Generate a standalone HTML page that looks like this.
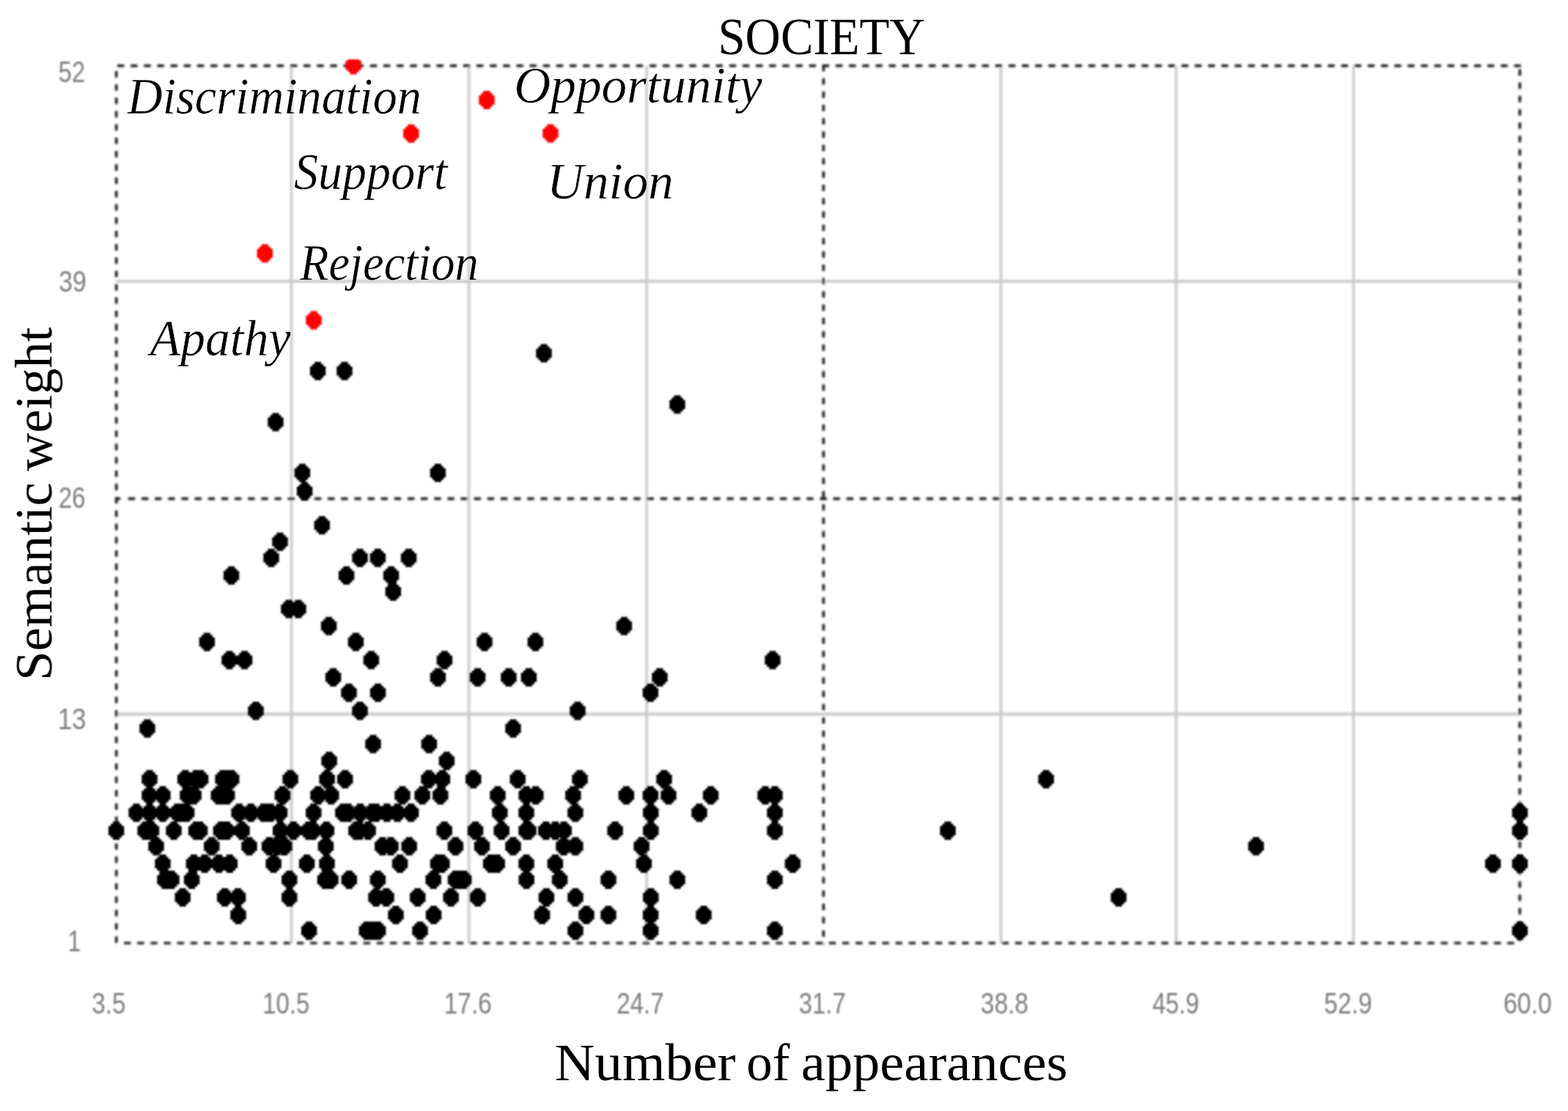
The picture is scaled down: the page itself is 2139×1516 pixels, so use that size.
<!DOCTYPE html>
<html lang="en"><head><meta charset="utf-8"><title>SOCIETY</title>
<style>
html,body{margin:0;padding:0;background:#fff;}
body{width:2139px;height:1516px;overflow:hidden;}
svg{display:block;}
.serif{font-family:"Liberation Serif","DejaVu Serif",serif;fill:#000;}
.it{font-style:italic;stroke:#fff;stroke-width:0.4px;}
.tick{font-family:"Liberation Sans","DejaVu Sans",sans-serif;fill:#7c7c7c;}
</style></head><body>
<svg width="2139" height="1516" viewBox="0 0 2139 1516">
<defs><clipPath id="plot"><rect x="0" y="81.5" width="2139" height="1516"/></clipPath>
<filter id="soft" x="-2%" y="-2%" width="104%" height="104%"><feGaussianBlur stdDeviation="1.25"/></filter><filter id="softt" x="-2%" y="-2%" width="104%" height="104%"><feGaussianBlur stdDeviation="0.8"/></filter><filter id="softl" x="-2%" y="-2%" width="104%" height="104%"><feGaussianBlur stdDeviation="1.4"/></filter></defs>
<rect width="2139" height="1516" fill="#fff"/>
<g filter="url(#softl)">
<g stroke="#cacaca" stroke-width="3.7" fill="none">
<line x1="397.6" y1="90.0" x2="397.6" y2="1287.0"/>
<line x1="639.6" y1="90.0" x2="639.6" y2="1287.0"/>
<line x1="882.2" y1="90.0" x2="882.2" y2="1287.0"/>
<line x1="1365.4" y1="90.0" x2="1365.4" y2="1287.0"/>
<line x1="1604.4" y1="90.0" x2="1604.4" y2="1287.0"/>
<line x1="1846.4" y1="90.0" x2="1846.4" y2="1287.0"/>
<line x1="158.4" y1="383.8" x2="2073.3" y2="383.8" stroke-width="4.3"/>
<line x1="158.4" y1="974.3" x2="2073.3" y2="974.3" stroke-width="4.3"/>
</g>
<g stroke="#101010" stroke-width="3.4" fill="none">
<line x1="158.7" y1="96.90" x2="158.7" y2="1288.5" stroke-dasharray="8.8 9.368"/>
<line x1="1123.4" y1="88.50" x2="1123.4" y2="1288.5" stroke-dasharray="8.8 9.368"/>
<line x1="2073.3" y1="94.40" x2="2073.3" y2="1288.5" stroke-dasharray="8.8 9.368"/>
<line x1="160.10" y1="89.8" x2="2076.0" y2="89.8" stroke-dasharray="9.3 8.846"/>
<line x1="174.90" y1="680.5" x2="2075.0" y2="680.5" stroke-dasharray="9.3 8.846"/>
<line x1="169.10" y1="1286.9" x2="2066.8" y2="1286.9" stroke-dasharray="9.3 8.846"/>
<line x1="158.7" y1="680.5" x2="164.2" y2="680.5"/>
</g>
</g>
<g filter="url(#soft)">
<path fill="#000" d="M417.01 1257.42h9.18v3.12h3.06v3.12h3.06v12.48h-3.06v3.12h-3.06v3.12h-9.18v-3.12h-3.06v-3.12h-3.06v-12.48h3.06v-3.12h3.06zM495.71 1257.42h9.18v3.12h3.06v3.12h3.06v12.48h-3.06v3.12h-3.06v3.12h-9.18v-3.12h-3.06v-3.12h-3.06v-12.48h3.06v-3.12h3.06zM503.41 1257.42h9.18v3.12h3.06v3.12h3.06v12.48h-3.06v3.12h-3.06v3.12h-9.18v-3.12h-3.06v-3.12h-3.06v-12.48h3.06v-3.12h3.06zM511.11 1257.42h9.18v3.12h3.06v3.12h3.06v12.48h-3.06v3.12h-3.06v3.12h-9.18v-3.12h-3.06v-3.12h-3.06v-12.48h3.06v-3.12h3.06zM568.41 1257.42h9.18v3.12h3.06v3.12h3.06v12.48h-3.06v3.12h-3.06v3.12h-9.18v-3.12h-3.06v-3.12h-3.06v-12.48h3.06v-3.12h3.06zM780.41 1257.42h9.18v3.12h3.06v3.12h3.06v12.48h-3.06v3.12h-3.06v3.12h-9.18v-3.12h-3.06v-3.12h-3.06v-12.48h3.06v-3.12h3.06zM883.01 1257.42h9.18v3.12h3.06v3.12h3.06v12.48h-3.06v3.12h-3.06v3.12h-9.18v-3.12h-3.06v-3.12h-3.06v-12.48h3.06v-3.12h3.06zM1052.41 1257.42h9.18v3.12h3.06v3.12h3.06v12.48h-3.06v3.12h-3.06v3.12h-9.18v-3.12h-3.06v-3.12h-3.06v-12.48h3.06v-3.12h3.06zM2068.81 1257.42h9.18v3.12h3.06v3.12h3.06v12.48h-3.06v3.12h-3.06v3.12h-9.18v-3.12h-3.06v-3.12h-3.06v-12.48h3.06v-3.12h3.06zM320.41 1236.12h9.18v3.12h3.06v3.12h3.06v12.48h-3.06v3.12h-3.06v3.12h-9.18v-3.12h-3.06v-3.12h-3.06v-12.48h3.06v-3.12h3.06zM535.41 1236.12h9.18v3.12h3.06v3.12h3.06v12.48h-3.06v3.12h-3.06v3.12h-9.18v-3.12h-3.06v-3.12h-3.06v-12.48h3.06v-3.12h3.06zM587.01 1236.12h9.18v3.12h3.06v3.12h3.06v12.48h-3.06v3.12h-3.06v3.12h-9.18v-3.12h-3.06v-3.12h-3.06v-12.48h3.06v-3.12h3.06zM735.01 1236.12h9.18v3.12h3.06v3.12h3.06v12.48h-3.06v3.12h-3.06v3.12h-9.18v-3.12h-3.06v-3.12h-3.06v-12.48h3.06v-3.12h3.06zM795.41 1236.12h9.18v3.12h3.06v3.12h3.06v12.48h-3.06v3.12h-3.06v3.12h-9.18v-3.12h-3.06v-3.12h-3.06v-12.48h3.06v-3.12h3.06zM825.41 1236.12h9.18v3.12h3.06v3.12h3.06v12.48h-3.06v3.12h-3.06v3.12h-9.18v-3.12h-3.06v-3.12h-3.06v-12.48h3.06v-3.12h3.06zM883.01 1236.12h9.18v3.12h3.06v3.12h3.06v12.48h-3.06v3.12h-3.06v3.12h-9.18v-3.12h-3.06v-3.12h-3.06v-12.48h3.06v-3.12h3.06zM955.41 1236.12h9.18v3.12h3.06v3.12h3.06v12.48h-3.06v3.12h-3.06v3.12h-9.18v-3.12h-3.06v-3.12h-3.06v-12.48h3.06v-3.12h3.06zM244.61 1211.92h9.18v3.12h3.06v3.12h3.06v12.48h-3.06v3.12h-3.06v3.12h-9.18v-3.12h-3.06v-3.12h-3.06v-12.48h3.06v-3.12h3.06zM302.11 1211.92h9.18v3.12h3.06v3.12h3.06v12.48h-3.06v3.12h-3.06v3.12h-9.18v-3.12h-3.06v-3.12h-3.06v-12.48h3.06v-3.12h3.06zM320.01 1211.92h9.18v3.12h3.06v3.12h3.06v12.48h-3.06v3.12h-3.06v3.12h-9.18v-3.12h-3.06v-3.12h-3.06v-12.48h3.06v-3.12h3.06zM390.21 1211.92h9.18v3.12h3.06v3.12h3.06v12.48h-3.06v3.12h-3.06v3.12h-9.18v-3.12h-3.06v-3.12h-3.06v-12.48h3.06v-3.12h3.06zM508.41 1211.92h9.18v3.12h3.06v3.12h3.06v12.48h-3.06v3.12h-3.06v3.12h-9.18v-3.12h-3.06v-3.12h-3.06v-12.48h3.06v-3.12h3.06zM522.41 1211.92h9.18v3.12h3.06v3.12h3.06v12.48h-3.06v3.12h-3.06v3.12h-9.18v-3.12h-3.06v-3.12h-3.06v-12.48h3.06v-3.12h3.06zM565.21 1211.92h9.18v3.12h3.06v3.12h3.06v12.48h-3.06v3.12h-3.06v3.12h-9.18v-3.12h-3.06v-3.12h-3.06v-12.48h3.06v-3.12h3.06zM610.61 1211.92h9.18v3.12h3.06v3.12h3.06v12.48h-3.06v3.12h-3.06v3.12h-9.18v-3.12h-3.06v-3.12h-3.06v-12.48h3.06v-3.12h3.06zM647.21 1211.92h9.18v3.12h3.06v3.12h3.06v12.48h-3.06v3.12h-3.06v3.12h-9.18v-3.12h-3.06v-3.12h-3.06v-12.48h3.06v-3.12h3.06zM740.81 1211.92h9.18v3.12h3.06v3.12h3.06v12.48h-3.06v3.12h-3.06v3.12h-9.18v-3.12h-3.06v-3.12h-3.06v-12.48h3.06v-3.12h3.06zM780.41 1211.92h9.18v3.12h3.06v3.12h3.06v12.48h-3.06v3.12h-3.06v3.12h-9.18v-3.12h-3.06v-3.12h-3.06v-12.48h3.06v-3.12h3.06zM883.21 1211.92h9.18v3.12h3.06v3.12h3.06v12.48h-3.06v3.12h-3.06v3.12h-9.18v-3.12h-3.06v-3.12h-3.06v-12.48h3.06v-3.12h3.06zM1521.41 1211.92h9.18v3.12h3.06v3.12h3.06v12.48h-3.06v3.12h-3.06v3.12h-9.18v-3.12h-3.06v-3.12h-3.06v-12.48h3.06v-3.12h3.06zM220.41 1187.92h9.18v3.12h3.06v3.12h3.06v12.48h-3.06v3.12h-3.06v3.12h-9.18v-3.12h-3.06v-3.12h-3.06v-12.48h3.06v-3.12h3.06zM229.41 1187.92h9.18v3.12h3.06v3.12h3.06v12.48h-3.06v3.12h-3.06v3.12h-9.18v-3.12h-3.06v-3.12h-3.06v-12.48h3.06v-3.12h3.06zM257.01 1187.92h9.18v3.12h3.06v3.12h3.06v12.48h-3.06v3.12h-3.06v3.12h-9.18v-3.12h-3.06v-3.12h-3.06v-12.48h3.06v-3.12h3.06zM390.21 1187.92h9.18v3.12h3.06v3.12h3.06v12.48h-3.06v3.12h-3.06v3.12h-9.18v-3.12h-3.06v-3.12h-3.06v-12.48h3.06v-3.12h3.06zM438.91 1187.92h9.18v3.12h3.06v3.12h3.06v12.48h-3.06v3.12h-3.06v3.12h-9.18v-3.12h-3.06v-3.12h-3.06v-12.48h3.06v-3.12h3.06zM446.41 1187.92h9.18v3.12h3.06v3.12h3.06v12.48h-3.06v3.12h-3.06v3.12h-9.18v-3.12h-3.06v-3.12h-3.06v-12.48h3.06v-3.12h3.06zM471.71 1187.92h9.18v3.12h3.06v3.12h3.06v12.48h-3.06v3.12h-3.06v3.12h-9.18v-3.12h-3.06v-3.12h-3.06v-12.48h3.06v-3.12h3.06zM510.81 1187.92h9.18v3.12h3.06v3.12h3.06v12.48h-3.06v3.12h-3.06v3.12h-9.18v-3.12h-3.06v-3.12h-3.06v-12.48h3.06v-3.12h3.06zM586.61 1187.92h9.18v3.12h3.06v3.12h3.06v12.48h-3.06v3.12h-3.06v3.12h-9.18v-3.12h-3.06v-3.12h-3.06v-12.48h3.06v-3.12h3.06zM616.91 1187.92h9.18v3.12h3.06v3.12h3.06v12.48h-3.06v3.12h-3.06v3.12h-9.18v-3.12h-3.06v-3.12h-3.06v-12.48h3.06v-3.12h3.06zM622.41 1187.92h9.18v3.12h3.06v3.12h3.06v12.48h-3.06v3.12h-3.06v3.12h-9.18v-3.12h-3.06v-3.12h-3.06v-12.48h3.06v-3.12h3.06zM628.11 1187.92h9.18v3.12h3.06v3.12h3.06v12.48h-3.06v3.12h-3.06v3.12h-9.18v-3.12h-3.06v-3.12h-3.06v-12.48h3.06v-3.12h3.06zM713.61 1187.92h9.18v3.12h3.06v3.12h3.06v12.48h-3.06v3.12h-3.06v3.12h-9.18v-3.12h-3.06v-3.12h-3.06v-12.48h3.06v-3.12h3.06zM759.01 1187.92h9.18v3.12h3.06v3.12h3.06v12.48h-3.06v3.12h-3.06v3.12h-9.18v-3.12h-3.06v-3.12h-3.06v-12.48h3.06v-3.12h3.06zM825.41 1187.92h9.18v3.12h3.06v3.12h3.06v12.48h-3.06v3.12h-3.06v3.12h-9.18v-3.12h-3.06v-3.12h-3.06v-12.48h3.06v-3.12h3.06zM919.41 1187.92h9.18v3.12h3.06v3.12h3.06v12.48h-3.06v3.12h-3.06v3.12h-9.18v-3.12h-3.06v-3.12h-3.06v-12.48h3.06v-3.12h3.06zM1052.41 1187.92h9.18v3.12h3.06v3.12h3.06v12.48h-3.06v3.12h-3.06v3.12h-9.18v-3.12h-3.06v-3.12h-3.06v-12.48h3.06v-3.12h3.06zM217.41 1166.12h9.18v3.12h3.06v3.12h3.06v12.48h-3.06v3.12h-3.06v3.12h-9.18v-3.12h-3.06v-3.12h-3.06v-12.48h3.06v-3.12h3.06zM259.81 1166.12h9.18v3.12h3.06v3.12h3.06v12.48h-3.06v3.12h-3.06v3.12h-9.18v-3.12h-3.06v-3.12h-3.06v-12.48h3.06v-3.12h3.06zM274.61 1166.12h9.18v3.12h3.06v3.12h3.06v12.48h-3.06v3.12h-3.06v3.12h-9.18v-3.12h-3.06v-3.12h-3.06v-12.48h3.06v-3.12h3.06zM294.01 1166.12h9.18v3.12h3.06v3.12h3.06v12.48h-3.06v3.12h-3.06v3.12h-9.18v-3.12h-3.06v-3.12h-3.06v-12.48h3.06v-3.12h3.06zM308.81 1166.12h9.18v3.12h3.06v3.12h3.06v12.48h-3.06v3.12h-3.06v3.12h-9.18v-3.12h-3.06v-3.12h-3.06v-12.48h3.06v-3.12h3.06zM368.61 1166.12h9.18v3.12h3.06v3.12h3.06v12.48h-3.06v3.12h-3.06v3.12h-9.18v-3.12h-3.06v-3.12h-3.06v-12.48h3.06v-3.12h3.06zM414.01 1166.12h9.18v3.12h3.06v3.12h3.06v12.48h-3.06v3.12h-3.06v3.12h-9.18v-3.12h-3.06v-3.12h-3.06v-12.48h3.06v-3.12h3.06zM441.41 1166.12h9.18v3.12h3.06v3.12h3.06v12.48h-3.06v3.12h-3.06v3.12h-9.18v-3.12h-3.06v-3.12h-3.06v-12.48h3.06v-3.12h3.06zM541.01 1166.12h9.18v3.12h3.06v3.12h3.06v12.48h-3.06v3.12h-3.06v3.12h-9.18v-3.12h-3.06v-3.12h-3.06v-12.48h3.06v-3.12h3.06zM592.91 1166.12h9.18v3.12h3.06v3.12h3.06v12.48h-3.06v3.12h-3.06v3.12h-9.18v-3.12h-3.06v-3.12h-3.06v-12.48h3.06v-3.12h3.06zM598.21 1166.12h9.18v3.12h3.06v3.12h3.06v12.48h-3.06v3.12h-3.06v3.12h-9.18v-3.12h-3.06v-3.12h-3.06v-12.48h3.06v-3.12h3.06zM665.01 1166.12h9.18v3.12h3.06v3.12h3.06v12.48h-3.06v3.12h-3.06v3.12h-9.18v-3.12h-3.06v-3.12h-3.06v-12.48h3.06v-3.12h3.06zM673.61 1166.12h9.18v3.12h3.06v3.12h3.06v12.48h-3.06v3.12h-3.06v3.12h-9.18v-3.12h-3.06v-3.12h-3.06v-12.48h3.06v-3.12h3.06zM713.41 1166.12h9.18v3.12h3.06v3.12h3.06v12.48h-3.06v3.12h-3.06v3.12h-9.18v-3.12h-3.06v-3.12h-3.06v-12.48h3.06v-3.12h3.06zM752.81 1166.12h9.18v3.12h3.06v3.12h3.06v12.48h-3.06v3.12h-3.06v3.12h-9.18v-3.12h-3.06v-3.12h-3.06v-12.48h3.06v-3.12h3.06zM873.81 1166.12h9.18v3.12h3.06v3.12h3.06v12.48h-3.06v3.12h-3.06v3.12h-9.18v-3.12h-3.06v-3.12h-3.06v-12.48h3.06v-3.12h3.06zM1076.81 1166.12h9.18v3.12h3.06v3.12h3.06v12.48h-3.06v3.12h-3.06v3.12h-9.18v-3.12h-3.06v-3.12h-3.06v-12.48h3.06v-3.12h3.06zM2032.01 1166.12h9.18v3.12h3.06v3.12h3.06v12.48h-3.06v3.12h-3.06v3.12h-9.18v-3.12h-3.06v-3.12h-3.06v-12.48h3.06v-3.12h3.06zM2068.81 1166.12h9.18v3.12h3.06v3.12h3.06v12.48h-3.06v3.12h-3.06v3.12h-9.18v-3.12h-3.06v-3.12h-3.06v-12.48h3.06v-3.12h3.06zM208.41 1142.32h9.18v3.12h3.06v3.12h3.06v12.48h-3.06v3.12h-3.06v3.12h-9.18v-3.12h-3.06v-3.12h-3.06v-12.48h3.06v-3.12h3.06zM284.21 1142.32h9.18v3.12h3.06v3.12h3.06v12.48h-3.06v3.12h-3.06v3.12h-9.18v-3.12h-3.06v-3.12h-3.06v-12.48h3.06v-3.12h3.06zM335.41 1142.32h9.18v3.12h3.06v3.12h3.06v12.48h-3.06v3.12h-3.06v3.12h-9.18v-3.12h-3.06v-3.12h-3.06v-12.48h3.06v-3.12h3.06zM363.01 1142.32h9.18v3.12h3.06v3.12h3.06v12.48h-3.06v3.12h-3.06v3.12h-9.18v-3.12h-3.06v-3.12h-3.06v-12.48h3.06v-3.12h3.06zM373.11 1142.32h9.18v3.12h3.06v3.12h3.06v12.48h-3.06v3.12h-3.06v3.12h-9.18v-3.12h-3.06v-3.12h-3.06v-12.48h3.06v-3.12h3.06zM383.21 1142.32h9.18v3.12h3.06v3.12h3.06v12.48h-3.06v3.12h-3.06v3.12h-9.18v-3.12h-3.06v-3.12h-3.06v-12.48h3.06v-3.12h3.06zM439.81 1142.32h9.18v3.12h3.06v3.12h3.06v12.48h-3.06v3.12h-3.06v3.12h-9.18v-3.12h-3.06v-3.12h-3.06v-12.48h3.06v-3.12h3.06zM517.21 1142.32h9.18v3.12h3.06v3.12h3.06v12.48h-3.06v3.12h-3.06v3.12h-9.18v-3.12h-3.06v-3.12h-3.06v-12.48h3.06v-3.12h3.06zM528.41 1142.32h9.18v3.12h3.06v3.12h3.06v12.48h-3.06v3.12h-3.06v3.12h-9.18v-3.12h-3.06v-3.12h-3.06v-12.48h3.06v-3.12h3.06zM553.61 1142.32h9.18v3.12h3.06v3.12h3.06v12.48h-3.06v3.12h-3.06v3.12h-9.18v-3.12h-3.06v-3.12h-3.06v-12.48h3.06v-3.12h3.06zM616.81 1142.32h9.18v3.12h3.06v3.12h3.06v12.48h-3.06v3.12h-3.06v3.12h-9.18v-3.12h-3.06v-3.12h-3.06v-12.48h3.06v-3.12h3.06zM652.91 1142.32h9.18v3.12h3.06v3.12h3.06v12.48h-3.06v3.12h-3.06v3.12h-9.18v-3.12h-3.06v-3.12h-3.06v-12.48h3.06v-3.12h3.06zM695.41 1142.32h9.18v3.12h3.06v3.12h3.06v12.48h-3.06v3.12h-3.06v3.12h-9.18v-3.12h-3.06v-3.12h-3.06v-12.48h3.06v-3.12h3.06zM764.41 1142.32h9.18v3.12h3.06v3.12h3.06v12.48h-3.06v3.12h-3.06v3.12h-9.18v-3.12h-3.06v-3.12h-3.06v-12.48h3.06v-3.12h3.06zM780.31 1142.32h9.18v3.12h3.06v3.12h3.06v12.48h-3.06v3.12h-3.06v3.12h-9.18v-3.12h-3.06v-3.12h-3.06v-12.48h3.06v-3.12h3.06zM870.61 1142.32h9.18v3.12h3.06v3.12h3.06v12.48h-3.06v3.12h-3.06v3.12h-9.18v-3.12h-3.06v-3.12h-3.06v-12.48h3.06v-3.12h3.06zM1708.81 1142.32h9.18v3.12h3.06v3.12h3.06v12.48h-3.06v3.12h-3.06v3.12h-9.18v-3.12h-3.06v-3.12h-3.06v-12.48h3.06v-3.12h3.06zM154.01 1121.02h9.18v3.12h3.06v3.12h3.06v12.48h-3.06v3.12h-3.06v3.12h-9.18v-3.12h-3.06v-3.12h-3.06v-12.48h3.06v-3.12h3.06zM193.61 1121.02h9.18v3.12h3.06v3.12h3.06v12.48h-3.06v3.12h-3.06v3.12h-9.18v-3.12h-3.06v-3.12h-3.06v-12.48h3.06v-3.12h3.06zM201.91 1121.02h9.18v3.12h3.06v3.12h3.06v12.48h-3.06v3.12h-3.06v3.12h-9.18v-3.12h-3.06v-3.12h-3.06v-12.48h3.06v-3.12h3.06zM232.51 1121.02h9.18v3.12h3.06v3.12h3.06v12.48h-3.06v3.12h-3.06v3.12h-9.18v-3.12h-3.06v-3.12h-3.06v-12.48h3.06v-3.12h3.06zM263.01 1121.02h9.18v3.12h3.06v3.12h3.06v12.48h-3.06v3.12h-3.06v3.12h-9.18v-3.12h-3.06v-3.12h-3.06v-12.48h3.06v-3.12h3.06zM268.01 1121.02h9.18v3.12h3.06v3.12h3.06v12.48h-3.06v3.12h-3.06v3.12h-9.18v-3.12h-3.06v-3.12h-3.06v-12.48h3.06v-3.12h3.06zM296.91 1121.02h9.18v3.12h3.06v3.12h3.06v12.48h-3.06v3.12h-3.06v3.12h-9.18v-3.12h-3.06v-3.12h-3.06v-12.48h3.06v-3.12h3.06zM300.91 1121.02h9.18v3.12h3.06v3.12h3.06v12.48h-3.06v3.12h-3.06v3.12h-9.18v-3.12h-3.06v-3.12h-3.06v-12.48h3.06v-3.12h3.06zM305.01 1121.02h9.18v3.12h3.06v3.12h3.06v12.48h-3.06v3.12h-3.06v3.12h-9.18v-3.12h-3.06v-3.12h-3.06v-12.48h3.06v-3.12h3.06zM325.41 1121.02h9.18v3.12h3.06v3.12h3.06v12.48h-3.06v3.12h-3.06v3.12h-9.18v-3.12h-3.06v-3.12h-3.06v-12.48h3.06v-3.12h3.06zM378.11 1121.02h9.18v3.12h3.06v3.12h3.06v12.48h-3.06v3.12h-3.06v3.12h-9.18v-3.12h-3.06v-3.12h-3.06v-12.48h3.06v-3.12h3.06zM395.81 1121.02h9.18v3.12h3.06v3.12h3.06v12.48h-3.06v3.12h-3.06v3.12h-9.18v-3.12h-3.06v-3.12h-3.06v-12.48h3.06v-3.12h3.06zM416.41 1121.02h9.18v3.12h3.06v3.12h3.06v12.48h-3.06v3.12h-3.06v3.12h-9.18v-3.12h-3.06v-3.12h-3.06v-12.48h3.06v-3.12h3.06zM422.41 1121.02h9.18v3.12h3.06v3.12h3.06v12.48h-3.06v3.12h-3.06v3.12h-9.18v-3.12h-3.06v-3.12h-3.06v-12.48h3.06v-3.12h3.06zM440.71 1121.02h9.18v3.12h3.06v3.12h3.06v12.48h-3.06v3.12h-3.06v3.12h-9.18v-3.12h-3.06v-3.12h-3.06v-12.48h3.06v-3.12h3.06zM481.31 1121.02h9.18v3.12h3.06v3.12h3.06v12.48h-3.06v3.12h-3.06v3.12h-9.18v-3.12h-3.06v-3.12h-3.06v-12.48h3.06v-3.12h3.06zM485.91 1121.02h9.18v3.12h3.06v3.12h3.06v12.48h-3.06v3.12h-3.06v3.12h-9.18v-3.12h-3.06v-3.12h-3.06v-12.48h3.06v-3.12h3.06zM497.51 1121.02h9.18v3.12h3.06v3.12h3.06v12.48h-3.06v3.12h-3.06v3.12h-9.18v-3.12h-3.06v-3.12h-3.06v-12.48h3.06v-3.12h3.06zM601.61 1121.02h9.18v3.12h3.06v3.12h3.06v12.48h-3.06v3.12h-3.06v3.12h-9.18v-3.12h-3.06v-3.12h-3.06v-12.48h3.06v-3.12h3.06zM644.01 1121.02h9.18v3.12h3.06v3.12h3.06v12.48h-3.06v3.12h-3.06v3.12h-9.18v-3.12h-3.06v-3.12h-3.06v-12.48h3.06v-3.12h3.06zM679.61 1121.02h9.18v3.12h3.06v3.12h3.06v12.48h-3.06v3.12h-3.06v3.12h-9.18v-3.12h-3.06v-3.12h-3.06v-12.48h3.06v-3.12h3.06zM713.41 1121.02h9.18v3.12h3.06v3.12h3.06v12.48h-3.06v3.12h-3.06v3.12h-9.18v-3.12h-3.06v-3.12h-3.06v-12.48h3.06v-3.12h3.06zM716.31 1121.02h9.18v3.12h3.06v3.12h3.06v12.48h-3.06v3.12h-3.06v3.12h-9.18v-3.12h-3.06v-3.12h-3.06v-12.48h3.06v-3.12h3.06zM740.21 1121.02h9.18v3.12h3.06v3.12h3.06v12.48h-3.06v3.12h-3.06v3.12h-9.18v-3.12h-3.06v-3.12h-3.06v-12.48h3.06v-3.12h3.06zM752.91 1121.02h9.18v3.12h3.06v3.12h3.06v12.48h-3.06v3.12h-3.06v3.12h-9.18v-3.12h-3.06v-3.12h-3.06v-12.48h3.06v-3.12h3.06zM764.71 1121.02h9.18v3.12h3.06v3.12h3.06v12.48h-3.06v3.12h-3.06v3.12h-9.18v-3.12h-3.06v-3.12h-3.06v-12.48h3.06v-3.12h3.06zM834.51 1121.02h9.18v3.12h3.06v3.12h3.06v12.48h-3.06v3.12h-3.06v3.12h-9.18v-3.12h-3.06v-3.12h-3.06v-12.48h3.06v-3.12h3.06zM883.21 1121.02h9.18v3.12h3.06v3.12h3.06v12.48h-3.06v3.12h-3.06v3.12h-9.18v-3.12h-3.06v-3.12h-3.06v-12.48h3.06v-3.12h3.06zM1052.41 1121.02h9.18v3.12h3.06v3.12h3.06v12.48h-3.06v3.12h-3.06v3.12h-9.18v-3.12h-3.06v-3.12h-3.06v-12.48h3.06v-3.12h3.06zM1288.41 1121.02h9.18v3.12h3.06v3.12h3.06v12.48h-3.06v3.12h-3.06v3.12h-9.18v-3.12h-3.06v-3.12h-3.06v-12.48h3.06v-3.12h3.06zM2068.81 1121.02h9.18v3.12h3.06v3.12h3.06v12.48h-3.06v3.12h-3.06v3.12h-9.18v-3.12h-3.06v-3.12h-3.06v-12.48h3.06v-3.12h3.06zM181.51 1096.62h9.18v3.12h3.06v3.12h3.06v12.48h-3.06v3.12h-3.06v3.12h-9.18v-3.12h-3.06v-3.12h-3.06v-12.48h3.06v-3.12h3.06zM199.41 1096.62h9.18v3.12h3.06v3.12h3.06v12.48h-3.06v3.12h-3.06v3.12h-9.18v-3.12h-3.06v-3.12h-3.06v-12.48h3.06v-3.12h3.06zM217.41 1096.62h9.18v3.12h3.06v3.12h3.06v12.48h-3.06v3.12h-3.06v3.12h-9.18v-3.12h-3.06v-3.12h-3.06v-12.48h3.06v-3.12h3.06zM237.41 1096.62h9.18v3.12h3.06v3.12h3.06v12.48h-3.06v3.12h-3.06v3.12h-9.18v-3.12h-3.06v-3.12h-3.06v-12.48h3.06v-3.12h3.06zM243.71 1096.62h9.18v3.12h3.06v3.12h3.06v12.48h-3.06v3.12h-3.06v3.12h-9.18v-3.12h-3.06v-3.12h-3.06v-12.48h3.06v-3.12h3.06zM250.01 1096.62h9.18v3.12h3.06v3.12h3.06v12.48h-3.06v3.12h-3.06v3.12h-9.18v-3.12h-3.06v-3.12h-3.06v-12.48h3.06v-3.12h3.06zM321.61 1096.62h9.18v3.12h3.06v3.12h3.06v12.48h-3.06v3.12h-3.06v3.12h-9.18v-3.12h-3.06v-3.12h-3.06v-12.48h3.06v-3.12h3.06zM337.61 1096.62h9.18v3.12h3.06v3.12h3.06v12.48h-3.06v3.12h-3.06v3.12h-9.18v-3.12h-3.06v-3.12h-3.06v-12.48h3.06v-3.12h3.06zM355.01 1096.62h9.18v3.12h3.06v3.12h3.06v12.48h-3.06v3.12h-3.06v3.12h-9.18v-3.12h-3.06v-3.12h-3.06v-12.48h3.06v-3.12h3.06zM359.81 1096.62h9.18v3.12h3.06v3.12h3.06v12.48h-3.06v3.12h-3.06v3.12h-9.18v-3.12h-3.06v-3.12h-3.06v-12.48h3.06v-3.12h3.06zM364.41 1096.62h9.18v3.12h3.06v3.12h3.06v12.48h-3.06v3.12h-3.06v3.12h-9.18v-3.12h-3.06v-3.12h-3.06v-12.48h3.06v-3.12h3.06zM376.91 1096.62h9.18v3.12h3.06v3.12h3.06v12.48h-3.06v3.12h-3.06v3.12h-9.18v-3.12h-3.06v-3.12h-3.06v-12.48h3.06v-3.12h3.06zM423.21 1096.62h9.18v3.12h3.06v3.12h3.06v12.48h-3.06v3.12h-3.06v3.12h-9.18v-3.12h-3.06v-3.12h-3.06v-12.48h3.06v-3.12h3.06zM463.31 1096.62h9.18v3.12h3.06v3.12h3.06v12.48h-3.06v3.12h-3.06v3.12h-9.18v-3.12h-3.06v-3.12h-3.06v-12.48h3.06v-3.12h3.06zM470.41 1096.62h9.18v3.12h3.06v3.12h3.06v12.48h-3.06v3.12h-3.06v3.12h-9.18v-3.12h-3.06v-3.12h-3.06v-12.48h3.06v-3.12h3.06zM486.81 1096.62h9.18v3.12h3.06v3.12h3.06v12.48h-3.06v3.12h-3.06v3.12h-9.18v-3.12h-3.06v-3.12h-3.06v-12.48h3.06v-3.12h3.06zM503.01 1096.62h9.18v3.12h3.06v3.12h3.06v12.48h-3.06v3.12h-3.06v3.12h-9.18v-3.12h-3.06v-3.12h-3.06v-12.48h3.06v-3.12h3.06zM508.41 1096.62h9.18v3.12h3.06v3.12h3.06v12.48h-3.06v3.12h-3.06v3.12h-9.18v-3.12h-3.06v-3.12h-3.06v-12.48h3.06v-3.12h3.06zM523.21 1096.62h9.18v3.12h3.06v3.12h3.06v12.48h-3.06v3.12h-3.06v3.12h-9.18v-3.12h-3.06v-3.12h-3.06v-12.48h3.06v-3.12h3.06zM537.61 1096.62h9.18v3.12h3.06v3.12h3.06v12.48h-3.06v3.12h-3.06v3.12h-9.18v-3.12h-3.06v-3.12h-3.06v-12.48h3.06v-3.12h3.06zM556.01 1096.62h9.18v3.12h3.06v3.12h3.06v12.48h-3.06v3.12h-3.06v3.12h-9.18v-3.12h-3.06v-3.12h-3.06v-12.48h3.06v-3.12h3.06zM677.21 1096.62h9.18v3.12h3.06v3.12h3.06v12.48h-3.06v3.12h-3.06v3.12h-9.18v-3.12h-3.06v-3.12h-3.06v-12.48h3.06v-3.12h3.06zM713.41 1096.62h9.18v3.12h3.06v3.12h3.06v12.48h-3.06v3.12h-3.06v3.12h-9.18v-3.12h-3.06v-3.12h-3.06v-12.48h3.06v-3.12h3.06zM780.31 1096.62h9.18v3.12h3.06v3.12h3.06v12.48h-3.06v3.12h-3.06v3.12h-9.18v-3.12h-3.06v-3.12h-3.06v-12.48h3.06v-3.12h3.06zM883.21 1096.62h9.18v3.12h3.06v3.12h3.06v12.48h-3.06v3.12h-3.06v3.12h-9.18v-3.12h-3.06v-3.12h-3.06v-12.48h3.06v-3.12h3.06zM949.41 1096.62h9.18v3.12h3.06v3.12h3.06v12.48h-3.06v3.12h-3.06v3.12h-9.18v-3.12h-3.06v-3.12h-3.06v-12.48h3.06v-3.12h3.06zM1052.41 1096.62h9.18v3.12h3.06v3.12h3.06v12.48h-3.06v3.12h-3.06v3.12h-9.18v-3.12h-3.06v-3.12h-3.06v-12.48h3.06v-3.12h3.06zM2068.81 1096.62h9.18v3.12h3.06v3.12h3.06v12.48h-3.06v3.12h-3.06v3.12h-9.18v-3.12h-3.06v-3.12h-3.06v-12.48h3.06v-3.12h3.06zM199.41 1072.82h9.18v3.12h3.06v3.12h3.06v12.48h-3.06v3.12h-3.06v3.12h-9.18v-3.12h-3.06v-3.12h-3.06v-12.48h3.06v-3.12h3.06zM217.41 1072.82h9.18v3.12h3.06v3.12h3.06v12.48h-3.06v3.12h-3.06v3.12h-9.18v-3.12h-3.06v-3.12h-3.06v-12.48h3.06v-3.12h3.06zM251.41 1072.82h9.18v3.12h3.06v3.12h3.06v12.48h-3.06v3.12h-3.06v3.12h-9.18v-3.12h-3.06v-3.12h-3.06v-12.48h3.06v-3.12h3.06zM259.61 1072.82h9.18v3.12h3.06v3.12h3.06v12.48h-3.06v3.12h-3.06v3.12h-9.18v-3.12h-3.06v-3.12h-3.06v-12.48h3.06v-3.12h3.06zM293.71 1072.82h9.18v3.12h3.06v3.12h3.06v12.48h-3.06v3.12h-3.06v3.12h-9.18v-3.12h-3.06v-3.12h-3.06v-12.48h3.06v-3.12h3.06zM299.41 1072.82h9.18v3.12h3.06v3.12h3.06v12.48h-3.06v3.12h-3.06v3.12h-9.18v-3.12h-3.06v-3.12h-3.06v-12.48h3.06v-3.12h3.06zM305.11 1072.82h9.18v3.12h3.06v3.12h3.06v12.48h-3.06v3.12h-3.06v3.12h-9.18v-3.12h-3.06v-3.12h-3.06v-12.48h3.06v-3.12h3.06zM380.81 1072.82h9.18v3.12h3.06v3.12h3.06v12.48h-3.06v3.12h-3.06v3.12h-9.18v-3.12h-3.06v-3.12h-3.06v-12.48h3.06v-3.12h3.06zM429.41 1072.82h9.18v3.12h3.06v3.12h3.06v12.48h-3.06v3.12h-3.06v3.12h-9.18v-3.12h-3.06v-3.12h-3.06v-12.48h3.06v-3.12h3.06zM447.21 1072.82h9.18v3.12h3.06v3.12h3.06v12.48h-3.06v3.12h-3.06v3.12h-9.18v-3.12h-3.06v-3.12h-3.06v-12.48h3.06v-3.12h3.06zM544.41 1072.82h9.18v3.12h3.06v3.12h3.06v12.48h-3.06v3.12h-3.06v3.12h-9.18v-3.12h-3.06v-3.12h-3.06v-12.48h3.06v-3.12h3.06zM571.51 1072.82h9.18v3.12h3.06v3.12h3.06v12.48h-3.06v3.12h-3.06v3.12h-9.18v-3.12h-3.06v-3.12h-3.06v-12.48h3.06v-3.12h3.06zM596.21 1072.82h9.18v3.12h3.06v3.12h3.06v12.48h-3.06v3.12h-3.06v3.12h-9.18v-3.12h-3.06v-3.12h-3.06v-12.48h3.06v-3.12h3.06zM674.41 1072.82h9.18v3.12h3.06v3.12h3.06v12.48h-3.06v3.12h-3.06v3.12h-9.18v-3.12h-3.06v-3.12h-3.06v-12.48h3.06v-3.12h3.06zM713.61 1072.82h9.18v3.12h3.06v3.12h3.06v12.48h-3.06v3.12h-3.06v3.12h-9.18v-3.12h-3.06v-3.12h-3.06v-12.48h3.06v-3.12h3.06zM726.21 1072.82h9.18v3.12h3.06v3.12h3.06v12.48h-3.06v3.12h-3.06v3.12h-9.18v-3.12h-3.06v-3.12h-3.06v-12.48h3.06v-3.12h3.06zM777.21 1072.82h9.18v3.12h3.06v3.12h3.06v12.48h-3.06v3.12h-3.06v3.12h-9.18v-3.12h-3.06v-3.12h-3.06v-12.48h3.06v-3.12h3.06zM849.81 1072.82h9.18v3.12h3.06v3.12h3.06v12.48h-3.06v3.12h-3.06v3.12h-9.18v-3.12h-3.06v-3.12h-3.06v-12.48h3.06v-3.12h3.06zM882.81 1072.82h9.18v3.12h3.06v3.12h3.06v12.48h-3.06v3.12h-3.06v3.12h-9.18v-3.12h-3.06v-3.12h-3.06v-12.48h3.06v-3.12h3.06zM907.41 1072.82h9.18v3.12h3.06v3.12h3.06v12.48h-3.06v3.12h-3.06v3.12h-9.18v-3.12h-3.06v-3.12h-3.06v-12.48h3.06v-3.12h3.06zM965.01 1072.82h9.18v3.12h3.06v3.12h3.06v12.48h-3.06v3.12h-3.06v3.12h-9.18v-3.12h-3.06v-3.12h-3.06v-12.48h3.06v-3.12h3.06zM1039.41 1072.82h9.18v3.12h3.06v3.12h3.06v12.48h-3.06v3.12h-3.06v3.12h-9.18v-3.12h-3.06v-3.12h-3.06v-12.48h3.06v-3.12h3.06zM1052.41 1072.82h9.18v3.12h3.06v3.12h3.06v12.48h-3.06v3.12h-3.06v3.12h-9.18v-3.12h-3.06v-3.12h-3.06v-12.48h3.06v-3.12h3.06zM199.41 1050.72h9.18v3.12h3.06v3.12h3.06v12.48h-3.06v3.12h-3.06v3.12h-9.18v-3.12h-3.06v-3.12h-3.06v-12.48h3.06v-3.12h3.06zM248.11 1050.72h9.18v3.12h3.06v3.12h3.06v12.48h-3.06v3.12h-3.06v3.12h-9.18v-3.12h-3.06v-3.12h-3.06v-12.48h3.06v-3.12h3.06zM263.11 1050.72h9.18v3.12h3.06v3.12h3.06v12.48h-3.06v3.12h-3.06v3.12h-9.18v-3.12h-3.06v-3.12h-3.06v-12.48h3.06v-3.12h3.06zM269.01 1050.72h9.18v3.12h3.06v3.12h3.06v12.48h-3.06v3.12h-3.06v3.12h-9.18v-3.12h-3.06v-3.12h-3.06v-12.48h3.06v-3.12h3.06zM299.51 1050.72h9.18v3.12h3.06v3.12h3.06v12.48h-3.06v3.12h-3.06v3.12h-9.18v-3.12h-3.06v-3.12h-3.06v-12.48h3.06v-3.12h3.06zM305.41 1050.72h9.18v3.12h3.06v3.12h3.06v12.48h-3.06v3.12h-3.06v3.12h-9.18v-3.12h-3.06v-3.12h-3.06v-12.48h3.06v-3.12h3.06zM311.21 1050.72h9.18v3.12h3.06v3.12h3.06v12.48h-3.06v3.12h-3.06v3.12h-9.18v-3.12h-3.06v-3.12h-3.06v-12.48h3.06v-3.12h3.06zM391.51 1050.72h9.18v3.12h3.06v3.12h3.06v12.48h-3.06v3.12h-3.06v3.12h-9.18v-3.12h-3.06v-3.12h-3.06v-12.48h3.06v-3.12h3.06zM441.51 1050.72h9.18v3.12h3.06v3.12h3.06v12.48h-3.06v3.12h-3.06v3.12h-9.18v-3.12h-3.06v-3.12h-3.06v-12.48h3.06v-3.12h3.06zM466.11 1050.72h9.18v3.12h3.06v3.12h3.06v12.48h-3.06v3.12h-3.06v3.12h-9.18v-3.12h-3.06v-3.12h-3.06v-12.48h3.06v-3.12h3.06zM580.41 1050.72h9.18v3.12h3.06v3.12h3.06v12.48h-3.06v3.12h-3.06v3.12h-9.18v-3.12h-3.06v-3.12h-3.06v-12.48h3.06v-3.12h3.06zM598.81 1050.72h9.18v3.12h3.06v3.12h3.06v12.48h-3.06v3.12h-3.06v3.12h-9.18v-3.12h-3.06v-3.12h-3.06v-12.48h3.06v-3.12h3.06zM641.21 1050.72h9.18v3.12h3.06v3.12h3.06v12.48h-3.06v3.12h-3.06v3.12h-9.18v-3.12h-3.06v-3.12h-3.06v-12.48h3.06v-3.12h3.06zM701.61 1050.72h9.18v3.12h3.06v3.12h3.06v12.48h-3.06v3.12h-3.06v3.12h-9.18v-3.12h-3.06v-3.12h-3.06v-12.48h3.06v-3.12h3.06zM786.41 1050.72h9.18v3.12h3.06v3.12h3.06v12.48h-3.06v3.12h-3.06v3.12h-9.18v-3.12h-3.06v-3.12h-3.06v-12.48h3.06v-3.12h3.06zM901.41 1050.72h9.18v3.12h3.06v3.12h3.06v12.48h-3.06v3.12h-3.06v3.12h-9.18v-3.12h-3.06v-3.12h-3.06v-12.48h3.06v-3.12h3.06zM1422.41 1050.72h9.18v3.12h3.06v3.12h3.06v12.48h-3.06v3.12h-3.06v3.12h-9.18v-3.12h-3.06v-3.12h-3.06v-12.48h3.06v-3.12h3.06zM444.51 1025.82h9.18v3.12h3.06v3.12h3.06v12.48h-3.06v3.12h-3.06v3.12h-9.18v-3.12h-3.06v-3.12h-3.06v-12.48h3.06v-3.12h3.06zM604.81 1025.82h9.18v3.12h3.06v3.12h3.06v12.48h-3.06v3.12h-3.06v3.12h-9.18v-3.12h-3.06v-3.12h-3.06v-12.48h3.06v-3.12h3.06zM504.41 1002.82h9.18v3.12h3.06v3.12h3.06v12.48h-3.06v3.12h-3.06v3.12h-9.18v-3.12h-3.06v-3.12h-3.06v-12.48h3.06v-3.12h3.06zM580.81 1002.82h9.18v3.12h3.06v3.12h3.06v12.48h-3.06v3.12h-3.06v3.12h-9.18v-3.12h-3.06v-3.12h-3.06v-12.48h3.06v-3.12h3.06zM196.41 981.42h9.18v3.12h3.06v3.12h3.06v12.48h-3.06v3.12h-3.06v3.12h-9.18v-3.12h-3.06v-3.12h-3.06v-12.48h3.06v-3.12h3.06zM695.41 981.42h9.18v3.12h3.06v3.12h3.06v12.48h-3.06v3.12h-3.06v3.12h-9.18v-3.12h-3.06v-3.12h-3.06v-12.48h3.06v-3.12h3.06zM344.41 957.42h9.18v3.12h3.06v3.12h3.06v12.48h-3.06v3.12h-3.06v3.12h-9.18v-3.12h-3.06v-3.12h-3.06v-12.48h3.06v-3.12h3.06zM486.41 957.42h9.18v3.12h3.06v3.12h3.06v12.48h-3.06v3.12h-3.06v3.12h-9.18v-3.12h-3.06v-3.12h-3.06v-12.48h3.06v-3.12h3.06zM783.41 957.42h9.18v3.12h3.06v3.12h3.06v12.48h-3.06v3.12h-3.06v3.12h-9.18v-3.12h-3.06v-3.12h-3.06v-12.48h3.06v-3.12h3.06zM471.41 932.82h9.18v3.12h3.06v3.12h3.06v12.48h-3.06v3.12h-3.06v3.12h-9.18v-3.12h-3.06v-3.12h-3.06v-12.48h3.06v-3.12h3.06zM511.01 932.82h9.18v3.12h3.06v3.12h3.06v12.48h-3.06v3.12h-3.06v3.12h-9.18v-3.12h-3.06v-3.12h-3.06v-12.48h3.06v-3.12h3.06zM882.81 932.82h9.18v3.12h3.06v3.12h3.06v12.48h-3.06v3.12h-3.06v3.12h-9.18v-3.12h-3.06v-3.12h-3.06v-12.48h3.06v-3.12h3.06zM450.01 911.82h9.18v3.12h3.06v3.12h3.06v12.48h-3.06v3.12h-3.06v3.12h-9.18v-3.12h-3.06v-3.12h-3.06v-12.48h3.06v-3.12h3.06zM592.81 911.82h9.18v3.12h3.06v3.12h3.06v12.48h-3.06v3.12h-3.06v3.12h-9.18v-3.12h-3.06v-3.12h-3.06v-12.48h3.06v-3.12h3.06zM647.01 911.82h9.18v3.12h3.06v3.12h3.06v12.48h-3.06v3.12h-3.06v3.12h-9.18v-3.12h-3.06v-3.12h-3.06v-12.48h3.06v-3.12h3.06zM689.41 911.82h9.18v3.12h3.06v3.12h3.06v12.48h-3.06v3.12h-3.06v3.12h-9.18v-3.12h-3.06v-3.12h-3.06v-12.48h3.06v-3.12h3.06zM716.81 911.82h9.18v3.12h3.06v3.12h3.06v12.48h-3.06v3.12h-3.06v3.12h-9.18v-3.12h-3.06v-3.12h-3.06v-12.48h3.06v-3.12h3.06zM895.41 911.82h9.18v3.12h3.06v3.12h3.06v12.48h-3.06v3.12h-3.06v3.12h-9.18v-3.12h-3.06v-3.12h-3.06v-12.48h3.06v-3.12h3.06zM308.41 888.22h9.18v3.12h3.06v3.12h3.06v12.48h-3.06v3.12h-3.06v3.12h-9.18v-3.12h-3.06v-3.12h-3.06v-12.48h3.06v-3.12h3.06zM329.01 888.22h9.18v3.12h3.06v3.12h3.06v12.48h-3.06v3.12h-3.06v3.12h-9.18v-3.12h-3.06v-3.12h-3.06v-12.48h3.06v-3.12h3.06zM501.81 888.22h9.18v3.12h3.06v3.12h3.06v12.48h-3.06v3.12h-3.06v3.12h-9.18v-3.12h-3.06v-3.12h-3.06v-12.48h3.06v-3.12h3.06zM601.81 888.22h9.18v3.12h3.06v3.12h3.06v12.48h-3.06v3.12h-3.06v3.12h-9.18v-3.12h-3.06v-3.12h-3.06v-12.48h3.06v-3.12h3.06zM1049.41 888.22h9.18v3.12h3.06v3.12h3.06v12.48h-3.06v3.12h-3.06v3.12h-9.18v-3.12h-3.06v-3.12h-3.06v-12.48h3.06v-3.12h3.06zM277.81 863.42h9.18v3.12h3.06v3.12h3.06v12.48h-3.06v3.12h-3.06v3.12h-9.18v-3.12h-3.06v-3.12h-3.06v-12.48h3.06v-3.12h3.06zM480.81 863.42h9.18v3.12h3.06v3.12h3.06v12.48h-3.06v3.12h-3.06v3.12h-9.18v-3.12h-3.06v-3.12h-3.06v-12.48h3.06v-3.12h3.06zM656.41 863.42h9.18v3.12h3.06v3.12h3.06v12.48h-3.06v3.12h-3.06v3.12h-9.18v-3.12h-3.06v-3.12h-3.06v-12.48h3.06v-3.12h3.06zM725.81 863.42h9.18v3.12h3.06v3.12h3.06v12.48h-3.06v3.12h-3.06v3.12h-9.18v-3.12h-3.06v-3.12h-3.06v-12.48h3.06v-3.12h3.06zM444.01 841.82h9.18v3.12h3.06v3.12h3.06v12.48h-3.06v3.12h-3.06v3.12h-9.18v-3.12h-3.06v-3.12h-3.06v-12.48h3.06v-3.12h3.06zM846.81 841.82h9.18v3.12h3.06v3.12h3.06v12.48h-3.06v3.12h-3.06v3.12h-9.18v-3.12h-3.06v-3.12h-3.06v-12.48h3.06v-3.12h3.06zM389.41 818.42h9.18v3.12h3.06v3.12h3.06v12.48h-3.06v3.12h-3.06v3.12h-9.18v-3.12h-3.06v-3.12h-3.06v-12.48h3.06v-3.12h3.06zM402.41 818.42h9.18v3.12h3.06v3.12h3.06v12.48h-3.06v3.12h-3.06v3.12h-9.18v-3.12h-3.06v-3.12h-3.06v-12.48h3.06v-3.12h3.06zM531.81 794.82h9.18v3.12h3.06v3.12h3.06v12.48h-3.06v3.12h-3.06v3.12h-9.18v-3.12h-3.06v-3.12h-3.06v-12.48h3.06v-3.12h3.06zM311.01 772.82h9.18v3.12h3.06v3.12h3.06v12.48h-3.06v3.12h-3.06v3.12h-9.18v-3.12h-3.06v-3.12h-3.06v-12.48h3.06v-3.12h3.06zM468.01 772.82h9.18v3.12h3.06v3.12h3.06v12.48h-3.06v3.12h-3.06v3.12h-9.18v-3.12h-3.06v-3.12h-3.06v-12.48h3.06v-3.12h3.06zM529.01 772.82h9.18v3.12h3.06v3.12h3.06v12.48h-3.06v3.12h-3.06v3.12h-9.18v-3.12h-3.06v-3.12h-3.06v-12.48h3.06v-3.12h3.06zM365.41 748.82h9.18v3.12h3.06v3.12h3.06v12.48h-3.06v3.12h-3.06v3.12h-9.18v-3.12h-3.06v-3.12h-3.06v-12.48h3.06v-3.12h3.06zM486.41 748.82h9.18v3.12h3.06v3.12h3.06v12.48h-3.06v3.12h-3.06v3.12h-9.18v-3.12h-3.06v-3.12h-3.06v-12.48h3.06v-3.12h3.06zM510.81 748.82h9.18v3.12h3.06v3.12h3.06v12.48h-3.06v3.12h-3.06v3.12h-9.18v-3.12h-3.06v-3.12h-3.06v-12.48h3.06v-3.12h3.06zM553.01 748.82h9.18v3.12h3.06v3.12h3.06v12.48h-3.06v3.12h-3.06v3.12h-9.18v-3.12h-3.06v-3.12h-3.06v-12.48h3.06v-3.12h3.06zM377.41 726.82h9.18v3.12h3.06v3.12h3.06v12.48h-3.06v3.12h-3.06v3.12h-9.18v-3.12h-3.06v-3.12h-3.06v-12.48h3.06v-3.12h3.06zM434.71 704.32h9.18v3.12h3.06v3.12h3.06v12.48h-3.06v3.12h-3.06v3.12h-9.18v-3.12h-3.06v-3.12h-3.06v-12.48h3.06v-3.12h3.06zM411.01 657.82h9.18v3.12h3.06v3.12h3.06v12.48h-3.06v3.12h-3.06v3.12h-9.18v-3.12h-3.06v-3.12h-3.06v-12.48h3.06v-3.12h3.06zM407.81 632.82h9.18v3.12h3.06v3.12h3.06v12.48h-3.06v3.12h-3.06v3.12h-9.18v-3.12h-3.06v-3.12h-3.06v-12.48h3.06v-3.12h3.06zM592.81 632.82h9.18v3.12h3.06v3.12h3.06v12.48h-3.06v3.12h-3.06v3.12h-9.18v-3.12h-3.06v-3.12h-3.06v-12.48h3.06v-3.12h3.06zM371.41 563.42h9.18v3.12h3.06v3.12h3.06v12.48h-3.06v3.12h-3.06v3.12h-9.18v-3.12h-3.06v-3.12h-3.06v-12.48h3.06v-3.12h3.06zM919.41 539.42h9.18v3.12h3.06v3.12h3.06v12.48h-3.06v3.12h-3.06v3.12h-9.18v-3.12h-3.06v-3.12h-3.06v-12.48h3.06v-3.12h3.06zM429.01 493.82h9.18v3.12h3.06v3.12h3.06v12.48h-3.06v3.12h-3.06v3.12h-9.18v-3.12h-3.06v-3.12h-3.06v-12.48h3.06v-3.12h3.06zM465.41 493.82h9.18v3.12h3.06v3.12h3.06v12.48h-3.06v3.12h-3.06v3.12h-9.18v-3.12h-3.06v-3.12h-3.06v-12.48h3.06v-3.12h3.06zM737.41 469.62h9.18v3.12h3.06v3.12h3.06v12.48h-3.06v3.12h-3.06v3.12h-9.18v-3.12h-3.06v-3.12h-3.06v-12.48h3.06v-3.12h3.06z"/>
<path fill="#fe0000" clip-path="url(#plot)" d="M423.41 424.52h9.18v3.12h3.06v3.12h3.06v12.48h-3.06v3.12h-3.06v3.12h-9.18v-3.12h-3.06v-3.12h-3.06v-12.48h3.06v-3.12h3.06zM356.71 333.32h9.18v3.12h3.06v3.12h3.06v12.48h-3.06v3.12h-3.06v3.12h-9.18v-3.12h-3.06v-3.12h-3.06v-12.48h3.06v-3.12h3.06zM556.21 169.72h9.18v3.12h3.06v3.12h3.06v12.48h-3.06v3.12h-3.06v3.12h-9.18v-3.12h-3.06v-3.12h-3.06v-12.48h3.06v-3.12h3.06zM746.41 169.52h9.18v3.12h3.06v3.12h3.06v12.48h-3.06v3.12h-3.06v3.12h-9.18v-3.12h-3.06v-3.12h-3.06v-12.48h3.06v-3.12h3.06zM659.41 123.92h9.18v3.12h3.06v3.12h3.06v12.48h-3.06v3.12h-3.06v3.12h-9.18v-3.12h-3.06v-3.12h-3.06v-12.48h3.06v-3.12h3.06zM477.61 76.52h9.18v3.12h3.06v3.12h3.06v12.48h-3.06v3.12h-3.06v3.12h-9.18v-3.12h-3.06v-3.12h-3.06v-12.48h3.06v-3.12h3.06z"/>
</g>
<g filter="url(#softt)">
<text class="tick" x="79.87" y="112.2" font-size="40.0" textLength="36.26" lengthAdjust="spacingAndGlyphs">52</text>
<text class="tick" x="80.24" y="398.0" font-size="40.0" textLength="37.45" lengthAdjust="spacingAndGlyphs">39</text>
<text class="tick" x="80.06" y="692.9" font-size="40.0" textLength="36.47" lengthAdjust="spacingAndGlyphs">26</text>
<text class="tick" x="79.11" y="994.5" font-size="40.0" textLength="38.40" lengthAdjust="spacingAndGlyphs">13</text>
<text class="tick" x="92.49" y="1297.5" font-size="40.0" textLength="17.80" lengthAdjust="spacingAndGlyphs">1</text>
<text class="tick" x="125.15" y="1382.7" font-size="40.0" textLength="46.50" lengthAdjust="spacingAndGlyphs">3.5</text>
<text class="tick" x="358.23" y="1382.7" font-size="40.0" textLength="64.20" lengthAdjust="spacingAndGlyphs">10.5</text>
<text class="tick" x="605.80" y="1382.7" font-size="40.0" textLength="64.95" lengthAdjust="spacingAndGlyphs">17.6</text>
<text class="tick" x="841.25" y="1382.7" font-size="40.0" textLength="64.40" lengthAdjust="spacingAndGlyphs">24.7</text>
<text class="tick" x="1089.77" y="1382.7" font-size="40.0" textLength="63.97" lengthAdjust="spacingAndGlyphs">31.7</text>
<text class="tick" x="1337.85" y="1382.7" font-size="40.0" textLength="65.11" lengthAdjust="spacingAndGlyphs">38.8</text>
<text class="tick" x="1571.88" y="1382.7" font-size="40.0" textLength="63.84" lengthAdjust="spacingAndGlyphs">45.9</text>
<text class="tick" x="1806.33" y="1382.7" font-size="40.0" textLength="65.33" lengthAdjust="spacingAndGlyphs">52.9</text>
<text class="tick" x="2051.01" y="1382.7" font-size="40.0" textLength="65.85" lengthAdjust="spacingAndGlyphs">60.0</text>
</g>
<text class="serif" x="979.43" y="74.1" font-size="71.0" textLength="282.25" lengthAdjust="spacingAndGlyphs">SOCIETY</text>
<text class="serif" y="1474.4" font-size="71.0"><tspan class="serif" x="756.88" y="1474.4" font-size="71.0" textLength="246.83" lengthAdjust="spacingAndGlyphs">Number</tspan> <tspan class="serif" x="1018.36" y="1474.4" font-size="71.0" textLength="58.84" lengthAdjust="spacingAndGlyphs">of</tspan> <tspan class="serif" x="1092.88" y="1474.4" font-size="71.0" textLength="363.56" lengthAdjust="spacingAndGlyphs">appearances</tspan></text>
<g transform="translate(70.3 924.0) rotate(-90)">
<text class="serif" y="0" font-size="71.0"><tspan class="serif" x="-4.86" y="0.0" font-size="71.0" textLength="270.54" lengthAdjust="spacingAndGlyphs">Semantic</tspan> <tspan class="serif" x="281.20" y="0.0" font-size="71.0" textLength="196.41" lengthAdjust="spacingAndGlyphs">weight</tspan></text>
</g>
<text class="serif it" x="173.82" y="155.3" font-size="69.3" textLength="401.05" lengthAdjust="spacingAndGlyphs">Discrimination</text>
<text class="serif it" x="701.30" y="139.7" font-size="69.3" textLength="338.33" lengthAdjust="spacingAndGlyphs">Opportunity</text>
<text class="serif it" x="400.88" y="258.1" font-size="69.3" textLength="209.49" lengthAdjust="spacingAndGlyphs">Support</text>
<text class="serif it" x="746.12" y="271.0" font-size="69.3" textLength="172.67" lengthAdjust="spacingAndGlyphs">Union</text>
<text class="serif it" x="409.03" y="382.4" font-size="69.3" textLength="243.69" lengthAdjust="spacingAndGlyphs">Rejection</text>
<text class="serif it" x="204.86" y="485.0" font-size="69.3" textLength="191.68" lengthAdjust="spacingAndGlyphs">Apathy</text>
</svg>
</body></html>
